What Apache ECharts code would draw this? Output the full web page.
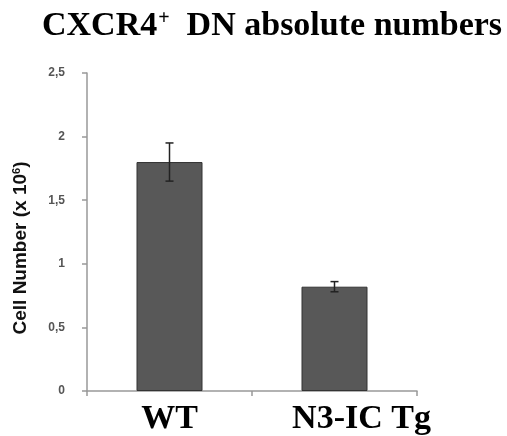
<!DOCTYPE html>
<html>
<head>
<meta charset="utf-8">
<title>CXCR4+ DN absolute numbers</title>
<script src="https://cdn.jsdelivr.net/npm/echarts@6/dist/echarts.min.js"></script>
<style>
  html, body { margin: 0; padding: 0; background: #fff; }
  #chart { width: 507px; height: 436px; }
</style>
</head>
<body>
<div id="chart"></div>
<script>
  // values (x 10^6 cells)
  var groups = ['WT', 'N3-IC Tg'];
  var means = [1.80, 0.82];
  var errs = [0.15, 0.04];
  var yTicks = { min: 0, max: 2.5, step: 0.5 };

  var chart = echarts.init(document.getElementById('chart'));

  var errData = [];
  for (var i = 0; i < groups.length; i++) {
    errData.push([i, means[i] - errs[i], means[i] + errs[i], means[i]]);
  }

  chart.setOption({
    animation: false,
    title: {
      text: '{a|CXCR4}{s|+}{a|  DN absolute numbers}',
      left: 42,
      top: 9,
      padding: 0,
      textStyle: {
        rich: {
          a: { fontFamily: 'Liberation Serif', fontWeight: 'bold', fontSize: 34, color: '#000' },
          s: { fontFamily: 'Liberation Serif', fontWeight: 'bold', fontSize: 20, color: '#000', verticalAlign: 'top', padding: [0, 0, 15, 1] }
        }
      }
    },
    grid: { left: 87, right: 90, top: 73, bottom: 44 },
    xAxis: {
      type: 'category',
      data: [
        { value: groups[0] },
        { value: groups[1], textStyle: { padding: [0, 0, 0, 54] } }
      ],
      axisLine: { lineStyle: { color: '#999', width: 1.5 } },
      axisTick: { show: true, length: 5, lineStyle: { color: '#999', width: 1.5 } },
      axisLabel: {
        interval: 0,
        hideOverlap: false,
        margin: 11,
        fontFamily: 'Liberation Serif',
        fontWeight: 'bold',
        fontSize: 34,
        color: '#000'
      }
    },
    yAxis: {
      type: 'value',
      min: yTicks.min,
      max: yTicks.max,
      interval: yTicks.step,
      name: '{n|Cell Number (x 10}{s|6}{n|)}',
      nameLocation: 'middle',
      nameGap: 56,
      nameTextStyle: {
        padding: [0, 32, 0, 0],
        rich: {
          n: { fontFamily: 'Liberation Sans', fontWeight: 'bold', fontSize: 19, color: '#111' },
          s: { fontFamily: 'Liberation Sans', fontWeight: 'bold', fontSize: 11, color: '#111', verticalAlign: 'top', padding: [0, 0, 9, 0] }
        }
      },
      splitLine: { show: false },
      axisLine: { show: true, lineStyle: { color: '#999', width: 1.5 } },
      axisTick: { show: true, length: 5, lineStyle: { color: '#999', width: 1.5 } },
      axisLabel: {
        margin: 22,
        fontFamily: 'Liberation Sans',
        fontWeight: 'bold',
        fontSize: 12,
        color: '#555',
        formatter: function (v) { return String(v).replace('.', ','); }
      }
    },
    series: [
      {
        type: 'bar',
        data: means,
        barWidth: '40%',
        itemStyle: { color: '#585858', borderColor: '#333', borderWidth: 1 }
      },
      {
        type: 'custom',
        data: errData,
        z: 10,
        renderItem: function (params, api) {
          var x = api.value(0);
          var lo = api.coord([x, api.value(1)]);
          var hi = api.coord([x, api.value(2)]);
          var cap = 4;
          var st = { stroke: '#222', lineWidth: 1.5 };
          return {
            type: 'group',
            children: [
              { type: 'line', shape: { x1: hi[0], y1: hi[1], x2: lo[0], y2: lo[1] }, style: st },
              { type: 'line', shape: { x1: hi[0] - cap, y1: hi[1], x2: hi[0] + cap, y2: hi[1] }, style: st },
              { type: 'line', shape: { x1: lo[0] - cap, y1: lo[1], x2: lo[0] + cap, y2: lo[1] }, style: st }
            ]
          };
        }
      }
    ]
  });
</script>
</body>
</html>
